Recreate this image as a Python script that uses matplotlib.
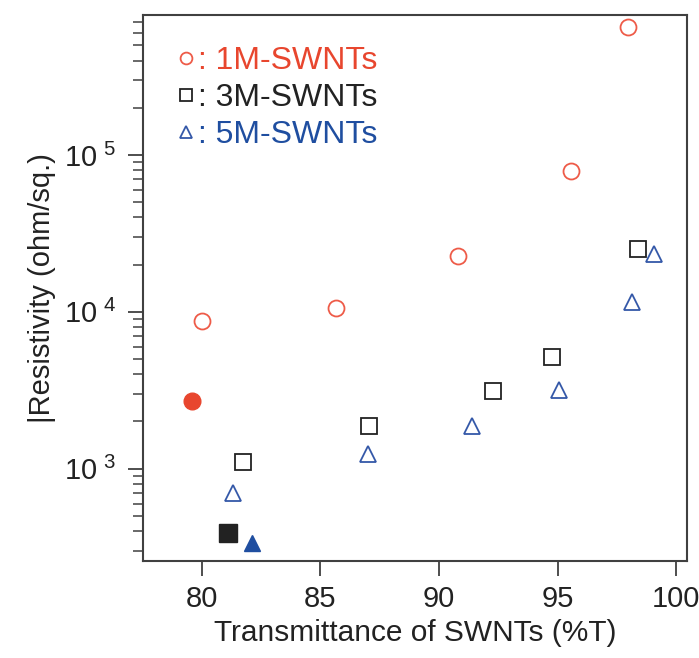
"""Resistivity vs transmittance of SWNT films, log-scale scatter."""

import math

import matplotlib

matplotlib.use("Agg")

import matplotlib.pyplot as plt
from matplotlib.lines import Line2D
from matplotlib.ticker import FuncFormatter, LogLocator, NullFormatter

# open markers: as-made films
t_1m = [80.0, 85.65, 90.8, 95.57, 97.97]
r_1m = [8.7e3, 1.06e4, 2.27e4, 7.95e4, 6.5e5]

t_3m = [81.73, 87.05, 92.27, 94.77, 98.41]
r_3m = [1.11e3, 1.86e3, 3.15e3, 5.15e3, 2.51e4]

t_5m = [81.31, 87.0, 91.38, 95.06, 98.13, 99.07]
r_5m = [702, 1.25e3, 1.86e3, 3.17e3, 1.15e4, 2.32e4]

# filled markers: treated films
t_1m_f = [79.58]
r_1m_f = [2.69e3]
t_3m_f = [81.1]
r_3m_f = [390]
t_5m_f = [82.11]
r_5m_f = [336]

x_ticks = [80, 85, 90, 95, 100]
legend_labels = [": 1M-SWNTs", ": 3M-SWNTs", ": 5M-SWNTs"]

RED = "#ee5b48"
RED_FILL = "#e8462e"
BLACK = "#222222"
BLUE = "#3458a8"
BLUE_FILL = "#1f4ea0"
SPINE = "#404040"

plt.rcParams["font.family"] = ["Liberation Sans", "DejaVu Sans"]
plt.rcParams["mathtext.fontset"] = "custom"
plt.rcParams["mathtext.rm"] = "Liberation Sans"


def _pow10_label(value, _pos):
    return r"$\mathregular{10^{\,\,%d}}$" % round(math.log10(value))


fig = plt.figure(figsize=(6.99, 6.58), dpi=100)
ax = fig.add_axes([0.2046, 0.1474, 0.7782, 0.8298])

open_kw = dict(linestyle="none", markerfacecolor="none", markeredgewidth=1.3)
ax.plot(t_1m, r_1m, marker="o", markersize=11.5, markeredgecolor=RED, **open_kw)
ax.plot(t_3m, r_3m, marker="s", markersize=11.5, markeredgecolor=BLACK, **open_kw)
ax.plot(t_5m, r_5m, marker="^", markersize=12, markeredgecolor=BLUE, **open_kw)

ax.plot(t_1m_f, r_1m_f, linestyle="none", marker="o", markersize=12, color=RED_FILL)
ax.plot(t_3m_f, r_3m_f, linestyle="none", marker="s", markersize=13.5, color=BLACK)
ax.plot(t_5m_f, r_5m_f, linestyle="none", marker="^", markersize=11.5, color=BLUE_FILL)

ax.set_yscale("log")
ax.set_xlim(77.52, 100.46)
ax.set_ylim(258, 7.8e5)

ax.set_xticks(x_ticks)
ax.set_xticklabels([str(v) for v in x_ticks])
ax.yaxis.set_major_locator(LogLocator(base=10, numticks=10))
ax.yaxis.set_minor_locator(LogLocator(base=10, subs=range(2, 10), numticks=20))
ax.yaxis.set_major_formatter(FuncFormatter(_pow10_label))
ax.yaxis.set_minor_formatter(NullFormatter())

ax.tick_params(axis="both", which="major", direction="out", length=10.5, width=1.3,
               color=SPINE, labelsize=21, labelcolor="#222222")
ax.tick_params(axis="x", pad=7)
ax.tick_params(axis="y", pad=9)
ax.tick_params(axis="y", which="minor", direction="out", length=7, width=1.1, color=SPINE)
ax.tick_params(axis="x", which="minor", bottom=False)

for spine in ax.spines.values():
    spine.set_color(SPINE)
    spine.set_linewidth(1.5)

ax.set_xlabel("Transmittance of SWNTs (%T)", fontsize=21.5, color="#222222", labelpad=4)
ax.set_ylabel("|Resistivity (ohm/sq.)", fontsize=21, color="#222222", labelpad=6)

handles = [
    Line2D([], [], marker="o", markersize=8.5, markeredgecolor=RED, **open_kw),
    Line2D([], [], marker="s", markersize=8, markeredgecolor=BLACK, **open_kw),
    Line2D([], [], marker="^", markersize=8, markeredgecolor=BLUE, **open_kw),
]
legend = ax.legend(
    handles,
    legend_labels,
    loc="upper left",
    bbox_to_anchor=(0.037, 0.967),
    frameon=False,
    fontsize=23,
    handlelength=0.6,
    handletextpad=0.1,
    labelspacing=0.22,
    borderaxespad=0,
)
for text, color in zip(legend.get_texts(), [RED_FILL, BLACK, BLUE_FILL]):
    text.set_color(color)

fig.savefig("out.png", dpi=100)
